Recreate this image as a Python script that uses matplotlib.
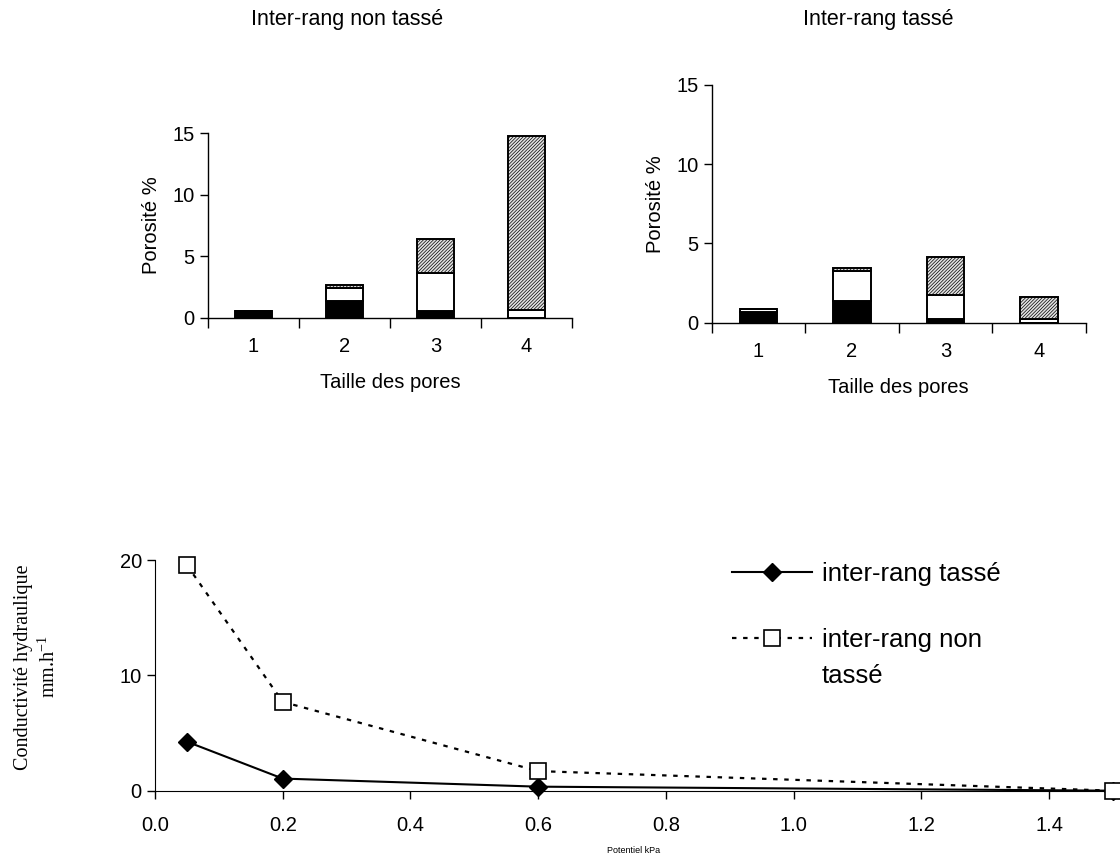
import matplotlib
matplotlib.use("Agg")
import matplotlib.pyplot as plt
import numpy as np

plt.rcParams["font.family"] = ["Liberation Sans", "DejaVu Sans"]
plt.rcParams["hatch.color"] = "#8a8a8a"
plt.rcParams["hatch.linewidth"] = 0.5
plt.rcParams["mathtext.fontset"] = "custom"
plt.rcParams["mathtext.rm"] = "Liberation Serif"

# pore-size classes
pore_classes = [1, 2, 3, 4]

# porosity (%) per stacked segment, "Inter-rang non tassé"
nt_black = [0.55, 1.35, 0.57, 0.0]
nt_white = [0.0, 1.10, 3.10, 0.63]
nt_hatch = [0.0, 0.20, 2.77, 14.15]

# porosity (%) per stacked segment, "Inter-rang tassé"
t_black = [0.69, 1.39, 0.25, 0.0]
t_white = [0.15, 1.87, 1.48, 0.22]
t_hatch = [0.0, 0.21, 2.43, 1.40]

# hydraulic conductivity vs potential
potentiel = [0.05, 0.2, 0.6, 1.5]
k_tasse = [4.25, 1.05, 0.35, 0.0]
k_non_tasse = [19.55, 7.7, 1.7, 0.0]

W, H = 1120, 866
fig = plt.figure(figsize=(W / 100, H / 100), dpi=100)

TICK_FS = 14.5
LABEL_FS = 14.5


def stacked_bars(ax, black, white, hatch):
    x = np.array(pore_classes)
    b = np.array(black)
    w = np.array(white)
    h = np.array(hatch)
    kw = dict(width=0.4, edgecolor="black", linewidth=1.4)
    ax.bar(x, b, color="black", **kw)
    ax.bar(x, w, bottom=b, color="white", **kw)
    ax.bar(x, h, bottom=b + w, color="#e2e2e2", hatch="//////////", **kw)
    ax.set_xlim(0.5, 4.5)
    ax.set_ylim(0, 15)
    ax.set_yticks([0, 5, 10, 15])
    ax.set_xticks(x)
    ax.set_xticks(np.arange(0.5, 4.6, 1.0), minor=True)
    ax.tick_params(axis="x", which="major", length=0, labelsize=TICK_FS, pad=14)
    ax.tick_params(axis="x", which="minor", length=7, width=1, direction="out")
    ax.tick_params(axis="y", length=6, width=1, labelsize=TICK_FS)
    for s in ["top", "right"]:
        ax.spines[s].set_visible(False)
    ax.spines["left"].set_linewidth(1)
    ax.spines["bottom"].set_linewidth(1)
    ax.set_xlabel("Taille des pores", fontsize=LABEL_FS, labelpad=12)
    ax.set_ylabel("Porosité %", fontsize=LABEL_FS, labelpad=8)


ax_nt = fig.add_axes([208 / W, 1 - 317.7 / H, 364 / W, 184.4 / H])
stacked_bars(ax_nt, nt_black, nt_white, nt_hatch)
fig.text(347 / W, 1 - 20 / H, "Inter-rang non tassé", fontsize=15.5,
         ha="center", va="center")

ax_t = fig.add_axes([711.7 / W, 1 - 322.7 / H, 374 / W, 237.7 / H])
stacked_bars(ax_t, t_black, t_white, t_hatch)
fig.text(878 / W, 1 - 20 / H, "Inter-rang tassé", fontsize=15.5,
         ha="center", va="center")

# bottom: hydraulic conductivity
ax_k = fig.add_axes([155 / W, 1 - 790.7 / H, 958 / W, 230.7 / H])
l1, = ax_k.plot(potentiel, k_tasse, color="black", linewidth=1.5,
                marker="D", markersize=9, markerfacecolor="black",
                markeredgecolor="black", clip_on=False, zorder=3)
l2, = ax_k.plot(potentiel, k_non_tasse, color="black", linewidth=1.6,
                linestyle=(0, (2, 3)), marker="s", markersize=11,
                markerfacecolor="white", markeredgecolor="black",
                markeredgewidth=1.2, clip_on=False, zorder=4)
ax_k.set_xlim(0, 1.5)
ax_k.set_ylim(0, 20)
ax_k.set_xticks(np.arange(0, 1.41, 0.2))
ax_k.set_xticklabels([f"{v:.1f}" for v in np.arange(0, 1.41, 0.2)])
ax_k.set_yticks([0, 10, 20])
ax_k.tick_params(axis="both", length=6, width=1, labelsize=TICK_FS)
ax_k.tick_params(axis="x", pad=12)
for s in ["top", "right"]:
    ax_k.spines[s].set_visible(False)
ax_k.set_xlabel("Potentiel kPa", fontsize=6.5, labelpad=8)

fig.text(37 / W, 1 - 667 / H, "Conductivité hydraulique\nmm.h$^{-1}$",
         fontsize=14.5, family="Liberation Serif", rotation=90,
         ha="center", va="center", multialignment="center",
         linespacing=1.25)

leg = ax_k.legend([l1, l2], ["inter-rang tassé", "inter-rang non"],
                  loc="upper left", bbox_to_anchor=(732 / W, 1 - 562 / H),
                  bbox_transform=fig.transFigure, frameon=False,
                  fontsize=18.5, handlelength=3.1, handletextpad=0.4,
                  labelspacing=1.65, borderpad=0, borderaxespad=0)
fig.text(822 / W, 1 - 676 / H, "tassé", fontsize=18.5, ha="left", va="center")

fig.savefig("out.png", dpi=100)
